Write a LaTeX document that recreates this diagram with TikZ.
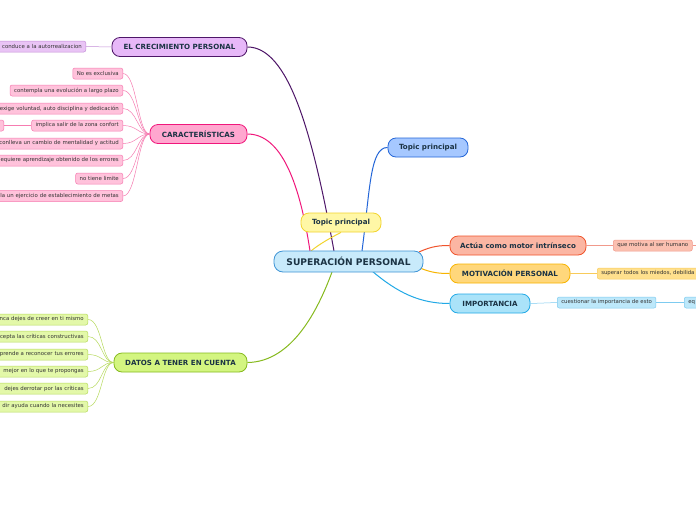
\documentclass[tikz,border=0pt]{standalone}
\usepackage{fontspec}
\setmainfont{DejaVu Sans}
\usetikzlibrary{calc,backgrounds}
\definecolor{ink}{HTML}{1B3344}
\definecolor{lfink}{HTML}{333333}
\definecolor{rootf}{HTML}{C8EAFB}
\definecolor{rootd}{HTML}{3E94D6}
\definecolor{yelf}{HTML}{FFF7A6}
\definecolor{yeld}{HTML}{F2D42E}
\definecolor{bluf}{HTML}{A6C8FF}
\definecolor{blud}{HTML}{2466D8}
\definecolor{purf}{HTML}{E7B8F8}
\definecolor{purd}{HTML}{4E1668}
\definecolor{purl}{HTML}{E9C4F5}
\definecolor{purb}{HTML}{C48ED8}
\definecolor{pnkf}{HTML}{FFA7CF}
\definecolor{pnkd}{HTML}{F0177B}
\definecolor{pnkl}{HTML}{FFC2DB}
\definecolor{pnkb}{HTML}{F67CB1}
\definecolor{grnf}{HTML}{D3F580}
\definecolor{grnd}{HTML}{86BA1E}
\definecolor{grnl}{HTML}{E3F8A9}
\definecolor{grnb}{HTML}{B6DA5C}
\definecolor{salf}{HTML}{FBB6A3}
\definecolor{sald}{HTML}{F0542C}
\definecolor{sall}{HTML}{FBC0B0}
\definecolor{salb}{HTML}{F1998B}
\definecolor{oraf}{HTML}{FFD77B}
\definecolor{orad}{HTML}{F7B400}
\definecolor{oral}{HTML}{FFE08D}
\definecolor{orab}{HTML}{F8CB5A}
\definecolor{cyaf}{HTML}{AAE3F9}
\definecolor{cyad}{HTML}{22A9E6}
\definecolor{cyal}{HTML}{BDE8FA}
\definecolor{cyab}{HTML}{7DCBF0}
\tikzset{
  root/.style={draw=rootd,fill=rootf,line width=0.8pt,rounded corners=9pt,minimum height=21pt,inner sep=0pt,text=ink,font=\fontsize{9.1}{11}\selectfont\bfseries},
  topic/.style={line width=0.8pt,rounded corners=8pt,minimum height=19pt,inner sep=0pt,text=ink,font=\fontsize{7.1}{8}\selectfont\bfseries},
  leaf/.style={line width=0.5pt,rounded corners=2pt,minimum height=11pt,inner xsep=4pt,inner ysep=0pt,text=lfink,font=\fontsize{5.4}{6}\selectfont},
  pleaf/.style={leaf,draw=pnkb,fill=pnkl,anchor=east},
  gleaf/.style={leaf,draw=grnb,fill=grnl,anchor=east},
  cut/.style={text width=#1,align=right},
  br/.style={line width=1pt},
  tw/.style={line width=0.5pt},
}
\begin{document}
\begin{tikzpicture}[x=1pt,y=-1pt]
\useasboundingbox (0,0) rectangle (696,520);
\clip (0,0) rectangle (696,520);

% main topics
\node[root,minimum width=149pt] (sp) at (348.5,261.5) {SUPERACIÓN PERSONAL};
\node[topic,draw=yeld,fill=yelf,minimum width=80pt] (tp1) at (341,222.5) {Topic principal};
\node[topic,draw=blud,fill=bluf,minimum width=80pt] (tp2) at (428,147.5) {Topic principal};
\node[topic,draw=purd,fill=purf,minimum width=135pt] (crec) at (179.5,47) {EL CRECIMIENTO PERSONAL};
\node[topic,draw=pnkd,fill=pnkf,minimum width=97pt] (car) at (198.5,134) {CARACTERÍSTICAS};
\node[topic,draw=grnd,fill=grnf,minimum width=133pt] (dat) at (180.5,362.5) {DATOS A TENER EN CUENTA};
\node[topic,draw=sald,fill=salf,minimum width=136pt] (act) at (518,245.5) {Actúa como motor intrínseco};
\node[topic,draw=orad,fill=oraf,minimum width=120pt] (mot) at (510,273.5) {MOTIVACIÓN PERSONAL};
\node[topic,draw=cyad,fill=cyaf,minimum width=80pt] (imp) at (490,303.5) {IMPORTANCIA};

% branches
\begin{scope}[on background layer]
\fill[white] (0,0) rectangle (696,520);
\draw[br,draw=purd] (crec.east) .. controls (288,47) and (312,130) .. (334,251);
\draw[br,draw=pnkd] (car.east) .. controls (282,134) and (300,185) .. (310,251);
\draw[br,draw=blud] (tp2.west) .. controls (370,147) and (370,190) .. (362,251);
\draw[br,draw=yeld] (tp1.south) .. controls (330,238) and (318,245) .. (311,251);
\draw[br,draw=grnd] (dat.east) .. controls (292,362) and (318,310) .. (332,272);
\draw[br,draw=sald] (419,252) .. controls (432,246) and (440,245.5) .. (act.west);
\draw[br,draw=orad] (420,268) .. controls (432,273) and (440,273.5) .. (mot.west);
\draw[br,draw=cyad] (372,271) .. controls (398,293) and (420,303.5) .. (imp.west);
\end{scope}

% crecimiento
\node[leaf,draw=purb,fill=purl,anchor=east,cut=90pt] (cr1) at (86,46.5) {conduce a la autorrealizacion};
\draw[tw,draw=purb] (cr1.east) -- (crec.west);

% caracteristicas
\node[pleaf] (c1) at (123,73.5) {No es exclusiva};
\node[pleaf] (c2) at (123,90.5) {contempla una evolución a largo plazo};
\node[pleaf,cut=125pt] (c3) at (123,108.5) {exige voluntad, auto disciplina y dedicación};
\node[pleaf] (c4) at (123,125.5) {implica salir de la zona confort};
\node[pleaf,cut=125pt] (c5) at (123,143.5) {conlleva un cambio de mentalidad y actitud};
\node[pleaf,cut=125pt] (c6) at (123,160.5) {equiere aprendizaje obtenido de los errores};
\node[pleaf] (c7) at (123,178.5) {no tiene limite};
\node[pleaf,cut=125pt] (c8) at (123,196) {la un ejercicio de establecimiento de metas};
\node[pleaf,minimum width=30pt] (c4a) at (4,125.5) {};
\draw[tw,draw=pnkb] (c4a.east) -- (c4.west);
\foreach \n in {c1,c2,c3,c4,c5,c6,c7,c8}
  \draw[tw,draw=pnkb] (\n.east) .. controls +(14,0) and +(-12,0) .. (car.west);

% datos
\node[gleaf,cut=95pt] (d1) at (88,319.5) {nca dejes de creer en ti mismo};
\node[gleaf,cut=95pt] (d2) at (88,336.5) {cepta las críticas constructivas};
\node[gleaf,cut=95pt] (d3) at (88,354.5) {prende a reconocer tus errores};
\node[gleaf,cut=95pt] (d4) at (88,371.5) {mejor en lo que te propongas};
\node[gleaf,cut=95pt] (d5) at (88,388.5) {dejes derrotar por las críticas};
\node[gleaf,cut=95pt] (d6) at (88,406.5) {dir ayuda cuando la necesites};
\foreach \n in {d1,d2,d3,d4,d5,d6}
  \draw[tw,draw=grnb] (\n.east) .. controls +(14,0) and +(-12,0) .. (dat.west);

% right side
\node[leaf,draw=salb,fill=sall,anchor=west] (a1) at (613,245.5) {que motiva al ser humano};
\coordinate (a2) at (710,245.5);
\draw[tw,draw=salb] (act.east) -- (a1.west);
\draw[tw,draw=salb] (a1.east) -- (a2);
\node[leaf,draw=orab,fill=oral,anchor=west,text width=112pt,align=left] (m1) at (597,273.5) {superar todos los miedos, debilida};
\draw[tw,draw=orab] (mot.east) -- (m1.west);
\node[leaf,draw=cyab,fill=cyal,anchor=west] (i1) at (557,302.5) {cuestionar la importancia de esto};
\node[leaf,draw=cyab,fill=cyal,anchor=west,text width=24pt,align=left] (i2) at (684,302.5) {eq};
\draw[tw,draw=cyab] (imp.east) -- (i1.west);
\draw[tw,draw=cyab] (i1.east) -- (i2.west);
\end{tikzpicture}
\end{document}
